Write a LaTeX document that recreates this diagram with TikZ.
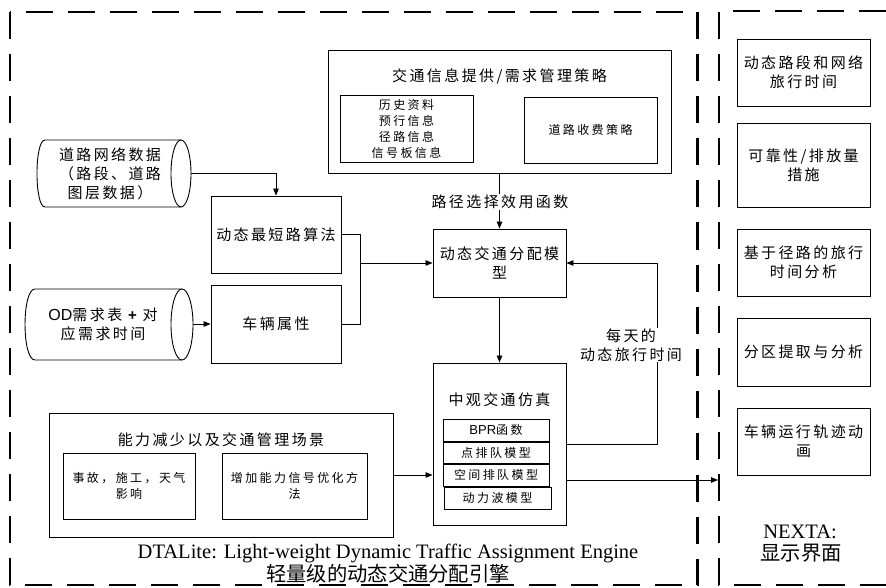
\documentclass[tikz,border=0pt]{standalone}
\usepackage{fontspec}
\setmainfont{Liberation Serif}
\newfontfamily\cjkm[LetterSpace=16]{Noto Sans CJK SC}
\newfontfamily\cjks[LetterSpace=20]{Noto Sans CJK SC}
\newfontfamily\cjkc{Noto Sans CJK SC}
\newfontfamily\lsans{Liberation Sans}
\usetikzlibrary{arrows.meta}
\newcommand\myfm{\fontsize{15}{19}\selectfont\cjkm}
\newcommand\myfs{\fontsize{12}{16}\selectfont\cjks}
\newcommand\myfc{\fontsize{20.3}{24}\selectfont\cjkc}
\newcommand\myfe{\fontsize{20.5}{24}\selectfont\rmfamily}
\tikzset{
  box/.style={draw, line width=0.9pt, inner sep=0pt, align=center},
  bigbox/.style={box, font=\myfm},
  smallbox/.style={box, font=\myfs},
  txt/.style={inner sep=0pt, align=center, font=\myfm},
  lbl/.style={inner sep=1pt, align=center, font=\myfm, fill=white},
  conn/.style={line width=0.8pt},
  arr/.style={conn, -{Triangle[length=7pt,width=5.5pt]}},
  dashbox/.style={line width=2.2pt, dash pattern=on 27pt off 15pt},
}
\begin{document}
\begin{tikzpicture}[x=1pt,y=-1pt]
\useasboundingbox (0,0) rectangle (886,588);
% dashed frames
\draw[dashbox] (10,12) rectangle (697.5,585);
\draw[dashbox] (886,11) -- (719,11) -- (719,585) -- (886,585);

% traffic information box
\node[box, minimum width=343pt, minimum height=123pt] (info) at (499.5,111.5) {};
\node[txt] (infot) at (499.5,76) {交通信息提供/需求管理策略};
\node[smallbox, minimum width=133pt, minimum height=67pt] (hist) at (406.5,128.5) {历史资料\\预行信息\\径路信息\\信号板信息};
\node[smallbox, minimum width=133pt, minimum height=66pt] (toll) at (590.5,130) {道路收费策略};

% DTA model
\node[bigbox, minimum width=133pt, minimum height=68pt] (dta) at (499.5,263) {动态交通分配模\\型};

% shortest path and vehicle
\node[bigbox, minimum width=130pt, minimum height=77pt] (spa) at (276,234.5) {动态最短路算法};
\node[bigbox, minimum width=130pt, minimum height=78pt] (veh) at (276,324) {车辆属性};

% road network cylinder
\draw[line width=0.9pt] (181,140) -- (45,140) .. controls (34.3,140) and (34.3,207) .. (45,207) -- (181,207);
\draw[line width=0.9pt] (181,173.5) ellipse [x radius=10pt, y radius=33.5pt];
\node[txt] (road) at (110,174) {道路网络数据\\（路段、道路\\图层数据）};
\coordinate (roadR) at (191,173.5);

% OD cylinder
\draw[line width=0.9pt] (182,289) -- (35,289) .. controls (21.7,289) and (21.7,360) .. (35,360) -- (182,360);
\draw[line width=0.9pt] (182,324.5) ellipse [x radius=11pt, y radius=35.5pt];
\node[txt] (od) at (103,324) {{\lsans\fontsize{16}{19}\selectfont OD}需求表 {\lsans\bfseries\fontsize{15}{19}\selectfont +} 对\\应需求时间};
\coordinate (odR) at (193,324);

% meso simulation
\node[box, minimum width=133pt, minimum height=162pt] (meso) at (499.5,444) {};
\node[txt] (mesot) at (499.5,400) {中观交通仿真};
\node[smallbox, minimum width=106pt, minimum height=22pt] (bpr) at (496,430) {{\lsans\fontsize{13}{16}\selectfont BPR}函数};
\node[smallbox, minimum width=106pt, minimum height=21pt] (pq) at (496,452.5) {点排队模型};
\node[smallbox, minimum width=106pt, minimum height=22pt] (sq) at (496,475) {空间排队模型};
\node[smallbox, minimum width=107pt, minimum height=22pt] (kw) at (497.5,498) {动力波模型};

% capacity box
\node[box, minimum width=344pt, minimum height=124pt] (cap) at (221,475) {};
\node[txt] (capt) at (221,440) {能力减少以及交通管理场景};
\node[smallbox, minimum width=132pt, minimum height=66pt] (acc) at (129,486) {事故，施工，天气\\影响};
\node[smallbox, minimum width=145pt, minimum height=66pt] (sig) at (294.5,486) {增加能力信号优化方\\法};

% right boxes
\node[bigbox, minimum width=133pt, minimum height=67pt] (r1) at (803.5,72.5) {动态路段和网络\\旅行时间};
\node[bigbox, minimum width=133pt, minimum height=84pt] (r2) at (803.5,165) {可靠性/排放量\\措施};
\node[bigbox, minimum width=133pt, minimum height=67pt] (r3) at (803.5,262.5) {基于径路的旅行\\时间分析};
\node[bigbox, minimum width=133pt, minimum height=68pt] (r4) at (803.5,352) {分区提取与分析};
\node[bigbox, minimum width=133pt, minimum height=67pt] (r5) at (803.5,441.5) {车辆运行轨迹动\\画};

% connectors
\coordinate (j) at (360,263);
\coordinate (fb) at (657,263);
\coordinate (nx) at (718,480);
\draw[arr] (roadR) -| (spa.north);
\draw[arr] (odR) -- (veh.west);
\draw[arr] (spa.east) -| (j) -- (dta.west);
\draw[conn] (veh.east) -| (j);
\draw[arr] (info.south) -- (dta.north);
\draw[arr] (dta.south) -- (meso.north);
\draw[arr] (meso.east) -| (fb) -- (dta.east);
\draw[arr] (cap.east) -- (cap.east -| meso.west);
\draw[arr] (meso.east |- nx) -- (nx);

% labels
\node[lbl] (util) at (500,202) {路径选择效用函数};
\node[lbl] (daily) at (631,345) {每天的\\动态旅行时间};

% captions
\node[inner sep=0pt, font=\myfe] (cap1) at (388,553) {DTALite: Light-weight Dynamic Traffic Assignment Engine};
\node[inner sep=0pt, font=\myfc] (cap2) at (388,574) {轻量级的动态交通分配引擎};
\node[inner sep=0pt, font=\myfe] (nexta) at (800,532) {NEXTA:};
\node[inner sep=0pt, font=\myfc] (nextb) at (801,553) {显示界面};
\end{tikzpicture}
\end{document}
